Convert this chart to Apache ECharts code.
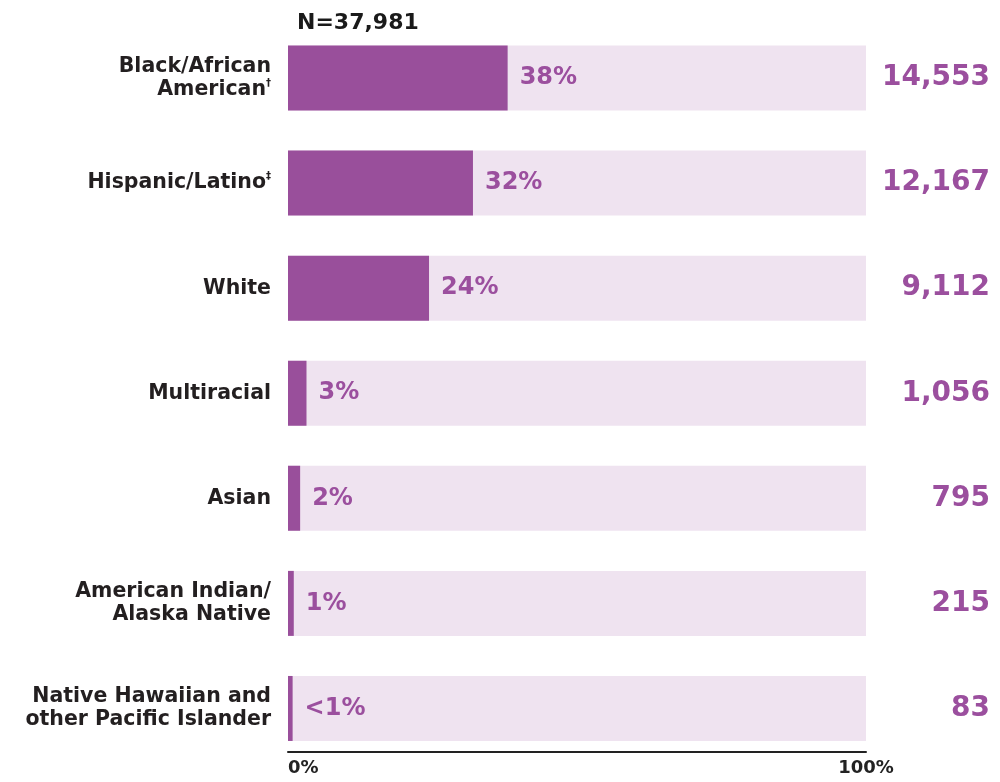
<!DOCTYPE html>
<html><head><meta charset="utf-8">
<script src="https://cdn.jsdelivr.net/npm/echarts@6/dist/echarts.min.js"></script>
<style>html,body{margin:0;padding:0;background:#fff}#c{width:1000px;height:782px}</style>
</head><body><div id="c"></div>
<script>
const categories = ['Black/African\nAmerican\u2020', 'Hispanic/Latino\u2021', 'White', 'Multiracial', 'Asian', 'American Indian/\nAlaska Native', 'Native Hawaiian and\nother Pacific Islander'];
const percents = [38, 32, 24.4, 3.2, 2.1, 1, 0.8];
const percentLabels = ['38%', '32%', '24%', '3%', '2%', '1%', '<1%'];
const counts = ['14,553', '12,167', '9,112', '1,056', '795', '215', '83'];
const totalLabel = 'N=37,981';

const FONT = '"DejaVu Sans", sans-serif';
const chart = echarts.init(document.getElementById('c'));
chart.setOption({
  animation: false,
  title: { text: totalLabel, left: 292, top: 7, textStyle: { fontFamily: FONT, fontWeight: 'bold', fontSize: 22, color: '#1a1a1a' } },
  grid: { left: 288, right: 134, top: 25.5, bottom: 21 },
  xAxis: {
    type: 'value', min: 0, max: 100, interval: 100, offset: -9,
    splitLine: { show: false },
    axisLine: { show: true, lineStyle: { color: '#222', width: 2 } },
    axisTick: { show: false },
    axisLabel: { formatter: '{value}%', fontFamily: FONT, fontWeight: 'bold', fontSize: 18, color: '#222', margin: 7, alignMinLabel: 'left' }
  },
  yAxis: [
    { type: 'category', data: categories, inverse: true,
      axisLine: { show: false }, axisTick: { show: false },
      axisLabel: {
        formatter: v => v.replace(/([\u2020\u2021])/g, '{sup|$1}'),
        fontFamily: FONT, fontWeight: 'bold', fontSize: 20.5, color: '#231f20', margin: 17, lineHeight: 23, align: 'right',
        rich: { sup: { fontFamily: FONT, fontWeight: 'bold', fontSize: 10, color: '#231f20', verticalAlign: 'top', lineHeight: 23 } }
      } },
    { type: 'category', data: counts, inverse: true, position: 'right',
      axisLine: { show: false }, axisTick: { show: false },
      axisLabel: { fontFamily: FONT, fontWeight: 'bold', fontSize: 28, color: '#9b4f9e', margin: 124, align: 'right' } }
  ],
  series: [{
    type: 'bar', data: percents, barWidth: 65,
    itemStyle: { color: '#994f9b' },
    showBackground: true,
    backgroundStyle: { color: '#efe3f0' },
    label: { show: true, position: 'right', distance: 12,
      formatter: p => percentLabels[p.dataIndex],
      fontFamily: FONT, fontWeight: 'bold', fontSize: 24, color: '#9b4f9e' }
  }]
});
</script></body></html>
